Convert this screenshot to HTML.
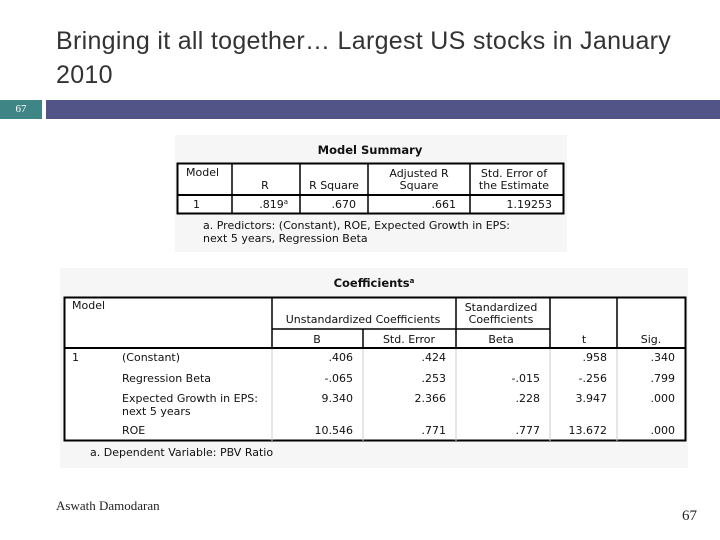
<!DOCTYPE html>
<html><head><meta charset="utf-8"><style>
body{margin:0;width:720px;height:540px;overflow:hidden;background:#fff;font-family:"DejaVu Sans","Liberation Sans",sans-serif}
.t{position:absolute;white-space:nowrap}
</style></head><body>
<div class="t" style="left:56px;top:24px;font-family:'Liberation Sans',sans-serif;font-size:25px;letter-spacing:0.3px;line-height:34px;color:#333">Bringing it all together… Largest US stocks in January<br>2010</div>
<div style="position:absolute;left:0;top:100px;width:42px;height:19px;background:#3f8585;color:#fff;font-family:'Liberation Serif',serif;font-size:11px;text-align:center;line-height:19px">67</div>
<div style="position:absolute;left:46px;top:100px;width:674px;height:19px;background:#525386"></div>
<svg width="720" height="540" style="position:absolute;left:0;top:0" font-family="DejaVu Sans, Liberation Sans, sans-serif" font-size="11" fill="#111">
<g>
<rect x="175" y="135" width="392" height="117" fill="#f6f6f6"/>
<text x="370" y="154" text-anchor="middle" font-weight="bold" font-size="11.5">Model Summary</text>
<rect x="177.5" y="163.5" width="386" height="50" fill="#fff" stroke="#000" stroke-width="2"/>
<line x1="177" y1="195" x2="564" y2="195" stroke="#000" stroke-width="2"/>
<g stroke="#000" stroke-width="1.5"><line x1="232" y1="163" x2="232" y2="214"/><line x1="300" y1="163" x2="300" y2="214"/><line x1="368" y1="163" x2="368" y2="214"/><line x1="470" y1="163" x2="470" y2="214"/></g>
<text x="186" y="176">Model</text>
<text x="265" y="189" text-anchor="middle">R</text>
<text x="334" y="189" text-anchor="middle">R Square</text>
<text x="419" y="177" text-anchor="middle">Adjusted R</text><text x="419" y="189" text-anchor="middle">Square</text>
<text x="514" y="177" text-anchor="middle">Std. Error of</text><text x="514" y="189" text-anchor="middle">the Estimate</text>
<text x="193" y="208">1</text>
<text x="288" y="208" text-anchor="end">.819<tspan font-size="7" dy="-4">a</tspan></text>
<text x="356" y="208" text-anchor="end">.670</text>
<text x="456" y="208" text-anchor="end">.661</text>
<text x="552" y="208" text-anchor="end">1.19253</text>
<text x="203" y="229">a. Predictors: (Constant), ROE, Expected Growth in EPS:</text>
<text x="203" y="242">next 5 years, Regression Beta</text>
</g>
<g>
<rect x="60" y="268" width="628" height="200" fill="#f6f6f6"/>
<text x="374" y="287" text-anchor="middle" font-weight="bold" font-size="11.5">Coefficients<tspan font-size="7" dy="-4">a</tspan></text>
<rect x="64.5" y="297.5" width="621" height="143" fill="#fff" stroke="#000" stroke-width="2"/>
<g stroke="#000" stroke-width="1.5">
<line x1="272" y1="297" x2="272" y2="348"/><line x1="456" y1="297" x2="456" y2="348"/><line x1="550" y1="297" x2="550" y2="348"/><line x1="617" y1="297" x2="617" y2="348"/>
<line x1="272" y1="329" x2="550" y2="329"/><line x1="363" y1="329" x2="363" y2="348"/>
</g>
<g stroke="#ccc" stroke-width="1"><line x1="272" y1="348" x2="272" y2="441"/><line x1="363" y1="348" x2="363" y2="441"/><line x1="456" y1="348" x2="456" y2="441"/><line x1="550" y1="348" x2="550" y2="441"/><line x1="617" y1="348" x2="617" y2="441"/></g>
<line x1="64" y1="348" x2="686" y2="348" stroke="#000" stroke-width="2"/>
<text x="72" y="309">Model</text>
<text x="363" y="323" text-anchor="middle">Unstandardized Coefficients</text>
<text x="501" y="311" text-anchor="middle">Standardized</text><text x="501" y="323" text-anchor="middle">Coefficients</text>
<text x="317" y="343" text-anchor="middle">B</text>
<text x="409" y="343" text-anchor="middle">Std. Error</text>
<text x="501" y="343" text-anchor="middle">Beta</text>
<text x="584" y="343" text-anchor="middle">t</text>
<text x="651" y="343" text-anchor="middle">Sig.</text>
<text x="72" y="361">1</text>
<text x="122" y="361">(Constant)</text>
<text x="122" y="382">Regression Beta</text>
<text x="122" y="402">Expected Growth in EPS:</text><text x="122" y="415">next 5 years</text>
<text x="122" y="434">ROE</text>
<g text-anchor="end">
<text x="353" y="361">.406</text><text x="446" y="361">.424</text><text x="607" y="361">.958</text><text x="675" y="361">.340</text>
<text x="353" y="382">-.065</text><text x="446" y="382">.253</text><text x="540" y="382">-.015</text><text x="607" y="382">-.256</text><text x="675" y="382">.799</text>
<text x="353" y="402">9.340</text><text x="446" y="402">2.366</text><text x="540" y="402">.228</text><text x="607" y="402">3.947</text><text x="675" y="402">.000</text>
<text x="353" y="434">10.546</text><text x="446" y="434">.771</text><text x="540" y="434">.777</text><text x="607" y="434">13.672</text><text x="675" y="434">.000</text>
</g>
<text x="90" y="456">a. Dependent Variable: PBV Ratio</text>
</g>
</svg>
<div class="t" style="left:56px;top:498px;font-family:'Liberation Serif',serif;font-size:13px;color:#222">Aswath Damodaran</div>
<div class="t" style="left:682px;top:508px;font-family:'Liberation Serif',serif;font-size:15px;color:#222">67</div>
</body></html>
